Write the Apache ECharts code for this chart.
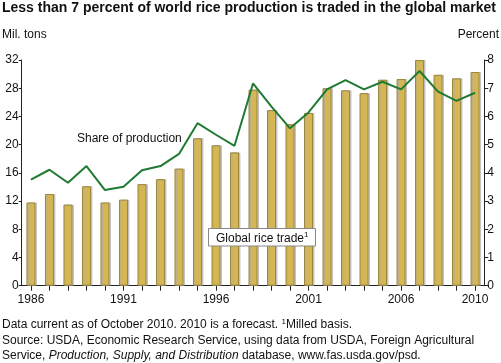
<!DOCTYPE html>
<html>
<head>
<meta charset="utf-8">
<script src="https://cdn.jsdelivr.net/npm/echarts@6/dist/echarts.min.js"></script>
<style>
html,body{margin:0;padding:0;background:#fff;}
#c{width:501px;height:363px;}
</style>
</head>
<body>
<div id="c"></div>
<script>
const years = ['1986','1987','1988','1989','1990','1991','1992','1993','1994','1995','1996','1997','1998','1999','2000','2001','2002','2003','2004','2005','2006','2007','2008','2009','2010'];
const tradeMilTons = [11.8,13.0,11.5,14.1,11.8,12.2,14.4,15.1,16.6,20.9,19.9,18.9,27.8,24.9,22.9,24.5,28.0,27.7,27.3,29.2,29.3,32.0,29.9,29.4,30.3];
const sharePercent = [3.76,4.11,3.65,4.24,3.39,3.51,4.09,4.24,4.67,5.76,5.35,4.96,7.17,6.35,5.58,6.14,6.96,7.29,6.96,7.23,6.96,7.61,6.88,6.55,6.84];
const leftTicks = [0,4,8,12,16,20,24,28,32];
const rightTicks = [0,1,2,3,4,5,6,7,8];
const shownYears = ['1986','1991','1996','2001','2006','2010'];

const FONT = 'Liberation Sans, Arial, Helvetica, sans-serif';
const chart = echarts.init(document.getElementById('c'), null, {renderer:'canvas'});
chart.setOption({
  animation:false,
  backgroundColor:'#fff',
  textStyle:{fontFamily:FONT},
  grid:{left:21.7, right:16.7, top:60, bottom:77.3, containLabel:false},
  xAxis:{
    type:'category', data:years, boundaryGap:true,
    axisLine:{lineStyle:{color:'#222',width:1}},
    axisTick:{show:true, alignWithLabel:true, interval:0, length:5, lineStyle:{color:'#222'}},
    axisLabel:{
      interval:function(i,v){return shownYears.indexOf(v)>=0;},
      color:'#111', fontSize:12, fontFamily:FONT, margin:8
    }
  },
  yAxis:[{
    type:'value', min:0, max:32, interval:4, position:'left',
    axisLine:{show:true, lineStyle:{color:'#222'}},
    axisTick:{show:true, length:3, lineStyle:{color:'#222'}},
    axisLabel:{color:'#111', fontSize:12, fontFamily:FONT, margin:3,
      formatter:function(v){return leftTicks.indexOf(v)>=0?String(v):'';}},
    splitLine:{show:false}
  },{
    type:'value', min:0, max:8, interval:1, position:'right',
    axisLine:{show:true, lineStyle:{color:'#222'}},
    axisTick:{show:true, length:4, lineStyle:{color:'#222'}},
    axisLabel:{color:'#111', fontSize:12, fontFamily:FONT, margin:3,
      formatter:function(v){return rightTicks.indexOf(v)>=0?String(v):'';}},
    splitLine:{show:false}
  }],
  series:[{
    name:'Global rice trade', type:'bar', data:tradeMilTons, yAxisIndex:0,
    barWidth:9,
    itemStyle:{color:'#D4B654', borderColor:'#9C863E', borderWidth:1,
      shadowColor:'rgba(170,170,170,0.6)', shadowOffsetX:1.5, shadowOffsetY:0, shadowBlur:0}
  },{
    name:'Share of production', type:'line', data:sharePercent, yAxisIndex:1,
    symbol:'none', lineStyle:{color:'#1F7A32', width:2}, z:5
  }],
  graphic:[
    {type:'text', left:2, top:1, style:{text:'Less than 7 percent of world rice production is traded in the global market', font:'bold 14px '+FONT, fill:'#111'}},
    {type:'text', left:2, top:29, style:{text:'Mil. tons', font:'12px '+FONT, fill:'#111'}},
    {type:'text', right:2, top:29, style:{text:'Percent', font:'12px '+FONT, fill:'#111', align:'right'}},
    {type:'text', left:77, top:133, z:10, style:{text:'Share of production', font:'12px '+FONT, fill:'#111'}},
    {type:'rect', z:10, shape:{x:208.5, y:228.5, width:107, height:17.5}, style:{fill:'#fff', stroke:'#888', lineWidth:1}},
    {type:'text', z:11, left:216, top:231, style:{
      text:'{n|Global rice trade}{s|1}',
      rich:{n:{font:'12px '+FONT, fill:'#111', verticalAlign:'bottom'}, s:{font:'8px '+FONT, fill:'#111', verticalAlign:'top', padding:[0,0,6,0]}}
    }},
    {type:'text', left:2, top:318, style:{
      text:'{n|Data current as of October 2010. 2010 is a forecast. }{s|1}{n|Milled basis.}',
      rich:{n:{font:'12px '+FONT, fill:'#111'}, s:{font:'8px '+FONT, fill:'#111', padding:[0,0,6,0]}}
    }},
    {type:'text', left:2, top:335, style:{text:'Source: USDA, Economic Research Service, using data from USDA, Foreign Agricultural', font:'12px '+FONT, fill:'#111'}},
    {type:'text', left:2, top:350, style:{
      text:'{n|Service, }{i|Production, Supply, and Distribution}{n| database, www.fas.usda.gov/psd.}',
      rich:{n:{font:'12px '+FONT, fill:'#111'}, i:{font:'italic 12px '+FONT, fill:'#111'}}
    }}
  ]
});
</script>
</body>
</html>
